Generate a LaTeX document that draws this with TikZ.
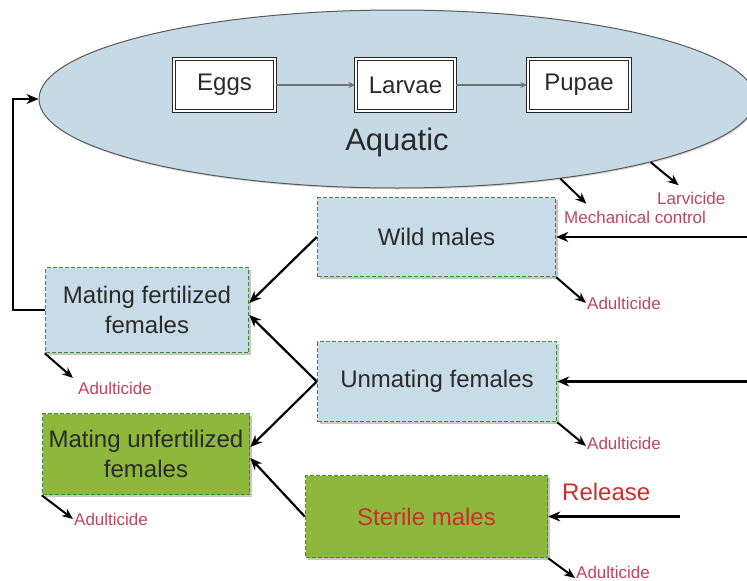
\documentclass[tikz,border=0pt]{standalone}
\usepackage{fontspec}
\setmainfont{Liberation Sans}
\usetikzlibrary{arrows.meta, shapes.geometric, shadows, calc}
\definecolor{aqua}{HTML}{C6DAE6}
\definecolor{boxblue}{HTML}{C8DCE8}
\definecolor{boxgreen}{HTML}{8DB83C}
\definecolor{edgegreen}{HTML}{3F8A34}
\definecolor{labelred}{HTML}{C2455E}
\definecolor{sterred}{HTML}{C8302E}
\definecolor{txt}{HTML}{2A2A2A}

\begin{document}
\begin{tikzpicture}[x=1pt, y=-1pt,
    stage/.style={draw=black!85, double=white, double distance=2pt, line width=1.4pt,
      fill=white, minimum width=100, minimum height=52, text=txt,
      font=\fontsize{24}{28}\selectfont,
      drop shadow={shadow xshift=1.5pt, shadow yshift=-1.5pt, opacity=.4}},
    pop/.style={draw=edgegreen, dash pattern=on 4pt off 2pt, line width=1.5pt, fill=boxblue,
      text=txt, align=center, inner sep=2pt, font=\fontsize{24}{30}\selectfont,
      drop shadow={shadow xshift=2pt, shadow yshift=-2pt, opacity=.45}},
    popgreen/.style={pop, fill=boxgreen},
    lab/.style={text=labelred, inner sep=1pt, font=\fontsize{17}{20}\selectfont},
    flow/.style={-{Stealth[length=7pt,width=6pt]}, draw=black!55, line width=1.4pt},
    kill/.style={-{Stealth[length=11pt,width=9pt]}, line width=2pt},
    big/.style={-{Stealth[length=12pt,width=10pt]}, line width=2.2pt}]
  \useasboundingbox (0,0) rectangle (747,581);

  % aquatic stage
  \node[ellipse, draw=black!65, line width=1pt, fill=aqua, minimum width=716, minimum height=178, inner sep=0,
    drop shadow={shadow xshift=1pt, shadow yshift=-1.5pt, opacity=.3}] (aquatic) at (397,99) {};
  \node[stage, minimum width=101] (eggs) at (224.5,85) {Eggs};
  \node[stage, minimum width=99] (larvae) at (405.5,85) {Larvae};
  \node[stage, minimum width=102] (pupae) at (579,85) {Pupae};
  \node[text=txt, font=\fontsize{31}{36}\selectfont] (aqlabel) at (397,142) {Aquatic};
  \draw[flow] (eggs) -- (larvae);
  \draw[flow] (larvae) -- (pupae);

  % adults
  \node[pop, minimum width=238, minimum height=79] (wild) at (436.5,237) {Wild males};
  \node[pop, minimum width=203, minimum height=85] (fert) at (147,310) {Mating fertilized\\females};
  \node[pop, minimum width=239, minimum height=80] (unmate) at (437,381.5) {Unmating females};
  \node[popgreen, minimum width=207, minimum height=81] (unfert) at (146,454) {Mating unfertilized\\females};
  \node[popgreen, minimum width=242, minimum height=82, text=sterred] (sterile) at (426.5,516.5) {Sterile males};

  % control labels
  \node[lab, anchor=west] (larv) at (656,198) {Larvicide};
  \node[lab, anchor=west] (mech) at (563,217) {Mechanical control};
  \node[lab, anchor=west] (adwild) at (586,303) {Adulticide};
  \node[lab, anchor=west] (adfert) at (77,388) {Adulticide};
  \node[lab, anchor=west] (adunmate) at (586,443) {Adulticide};
  \node[lab, anchor=west] (adunfert) at (73,519) {Adulticide};
  \node[lab, anchor=west] (adsterile) at (575,572) {Adulticide};
  \node[text=sterred, anchor=west, inner sep=1pt, font=\fontsize{24}{28}\selectfont] (release) at (561,492) {Release};

  \coordinate (inwild) at (747,237);
  \coordinate (inunmate) at (747,381.5);
  \coordinate (insterile) at (680,516.5);

  \draw[big] (inwild) -- (wild.east);
  \draw[big] (inunmate) -- (unmate.east);
  \draw[big] (insterile) -- (sterile.east);
  \draw[big] (wild.west) -- ([yshift=7pt]fert.east);
  \draw[big] (unmate.west) -- ([yshift=-5pt]fert.east);
  \draw[big] (unmate.west) -- ([yshift=7pt]unfert.east);
  \draw[big] (sterile.west) -- ([yshift=-4pt]unfert.east);
  \draw[big] (fert.west) -- ++(-32,0) |- (aquatic.west);

  \draw[kill] (aquatic.-14) -- ++(28,23);
  \draw[kill] (aquatic.-26) -- ++(26,25);
  \draw[kill] (wild.south east) -- (adwild.west);
  \draw[kill] (fert.south west) -- ([xshift=-4pt, yshift=10pt]adfert.west);
  \draw[kill] (unmate.south east) -- ([yshift=-3pt]adunmate.west);
  \draw[kill] (unfert.south west) -- (adunfert.west);
  \draw[kill] (sterile.south east) -- ([yshift=-6pt]adsterile.west);
\end{tikzpicture}
\end{document}
